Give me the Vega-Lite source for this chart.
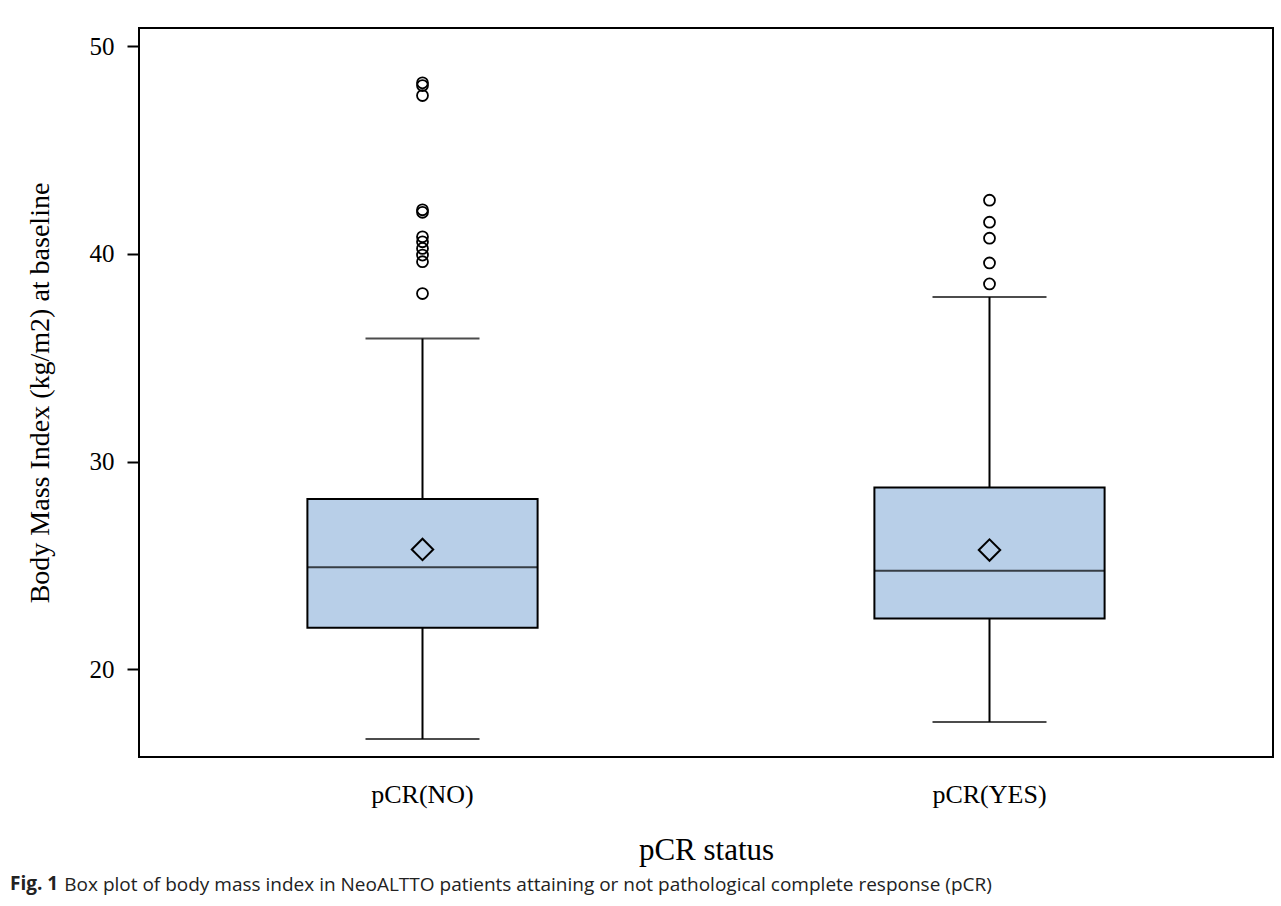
{
  "$schema": "https://vega.github.io/schema/vega-lite/v6.json",
  "width": 1134,
  "height": 729,
  "autosize": {"type": "none"},
  "padding": {"left": 139, "top": 28, "right": 8, "bottom": 149},
  "background": "white",
  "config": {
    "view": {"stroke": "black", "strokeWidth": 2},
    "font": "Liberation Serif"
  },
  "title": {
    "text": "Fig. 1",
    "subtitle": "\u200b\u00a0\u00a0\u00a0\u00a0\u00a0\u00a0\u00a0\u00a0\u00a0\u00a0\u00a0Box plot of body mass index in NeoALTTO patients attaining or not pathological complete response (pCR)",
    "orient": "bottom",
    "anchor": "start",
    "frame": "group",
    "dx": -129,
    "offset": 10,
    "font": "Open Sans",
    "fontSize": 19,
    "fontWeight": "bold",
    "color": "#222222",
    "subtitleFont": "Open Sans",
    "subtitleFontSize": 19,
    "subtitleFontWeight": "normal",
    "subtitleColor": "#222222",
    "subtitlePadding": -18
  },
  "datasets": {
    "stats": [
      {"group": "pCR(NO)", "low": 16.65, "q1": 22.0, "median": 24.91, "mean": 25.77, "q3": 28.2, "high": 35.93},
      {"group": "pCR(YES)", "low": 17.46, "q1": 22.45, "median": 24.74, "mean": 25.74, "q3": 28.75, "high": 37.92}
    ],
    "outliers": [
      {"group": "pCR(NO)", "bmi": 48.23},
      {"group": "pCR(NO)", "bmi": 48.1},
      {"group": "pCR(NO)", "bmi": 47.62},
      {"group": "pCR(NO)", "bmi": 42.12},
      {"group": "pCR(NO)", "bmi": 42.0},
      {"group": "pCR(NO)", "bmi": 40.82},
      {"group": "pCR(NO)", "bmi": 40.58},
      {"group": "pCR(NO)", "bmi": 40.26},
      {"group": "pCR(NO)", "bmi": 39.94},
      {"group": "pCR(NO)", "bmi": 39.62},
      {"group": "pCR(NO)", "bmi": 38.09},
      {"group": "pCR(YES)", "bmi": 42.58},
      {"group": "pCR(YES)", "bmi": 41.52},
      {"group": "pCR(YES)", "bmi": 40.75},
      {"group": "pCR(YES)", "bmi": 39.56},
      {"group": "pCR(YES)", "bmi": 38.55}
    ]
  },
  "encoding": {
    "x": {
      "field": "group",
      "type": "nominal",
      "title": "pCR status",
      "scale": {"domain": ["pCR(NO)", "pCR(YES)"], "paddingInner": 0, "paddingOuter": 0},
      "axis": {
        "domain": false,
        "ticks": false,
        "tickSize": 0,
        "labelAngle": 0,
        "labelFont": "Liberation Serif",
        "labelFontSize": 26,
        "labelColor": "black",
        "labelPadding": 24,
        "titleFont": "Liberation Serif",
        "titleFontSize": 31,
        "titleFontWeight": "normal",
        "titleColor": "black",
        "titlePadding": 28
      }
    }
  },
  "layer": [
    {
      "data": {"name": "stats"},
      "mark": {"type": "rule", "color": "black", "strokeWidth": 2},
      "encoding": {
        "y": {
          "field": "low",
          "type": "quantitative",
          "title": "Body Mass Index (kg/m2) at baseline",
          "scale": {"domain": [15.78, 50.87], "nice": false, "zero": false},
          "axis": {
            "values": [20, 30, 40, 50],
            "tickSize": 12,
            "tickWidth": 2,
            "tickColor": "black",
            "domain": false,
            "grid": false,
            "labelFont": "Liberation Serif",
            "labelFontSize": 25,
            "labelColor": "black",
            "labelPadding": 13,
            "titleFont": "Liberation Serif",
            "titleFontSize": 28,
            "titleFontWeight": "normal",
            "titleColor": "black",
            "titlePadding": 35
          }
        },
        "y2": {"field": "high"}
      }
    },
    {
      "data": {"name": "stats"},
      "mark": {"type": "tick", "color": "black", "thickness": 2, "size": 114, "orient": "horizontal"},
      "encoding": {
        "y": {"field": "low", "type": "quantitative", "title": "Body Mass Index (kg/m2) at baseline"}
      }
    },
    {
      "data": {"name": "stats"},
      "mark": {"type": "tick", "color": "black", "thickness": 2, "size": 114, "orient": "horizontal"},
      "encoding": {
        "y": {"field": "high", "type": "quantitative", "title": "Body Mass Index (kg/m2) at baseline"}
      }
    },
    {
      "data": {"name": "stats"},
      "mark": {"type": "bar", "fill": "#b8cfe8", "stroke": "black", "strokeWidth": 2, "width": {"band": 0.406}},
      "encoding": {
        "y": {"field": "q1", "type": "quantitative", "title": "Body Mass Index (kg/m2) at baseline"},
        "y2": {"field": "q3"}
      }
    },
    {
      "data": {"name": "stats"},
      "mark": {"type": "tick", "color": "black", "thickness": 2, "size": 230, "orient": "horizontal"},
      "encoding": {
        "y": {"field": "median", "type": "quantitative", "title": "Body Mass Index (kg/m2) at baseline"}
      }
    },
    {
      "data": {"name": "stats"},
      "mark": {"type": "point", "shape": "diamond", "filled": false, "stroke": "black", "strokeWidth": 2, "size": 460, "opacity": 1},
      "encoding": {
        "y": {"field": "mean", "type": "quantitative", "title": "Body Mass Index (kg/m2) at baseline"}
      }
    },
    {
      "data": {"name": "outliers"},
      "mark": {"type": "point", "shape": "circle", "filled": false, "stroke": "black", "strokeWidth": 1.8, "size": 120, "opacity": 1},
      "encoding": {
        "y": {"field": "bmi", "type": "quantitative", "title": "Body Mass Index (kg/m2) at baseline"}
      }
    }
  ]
}
